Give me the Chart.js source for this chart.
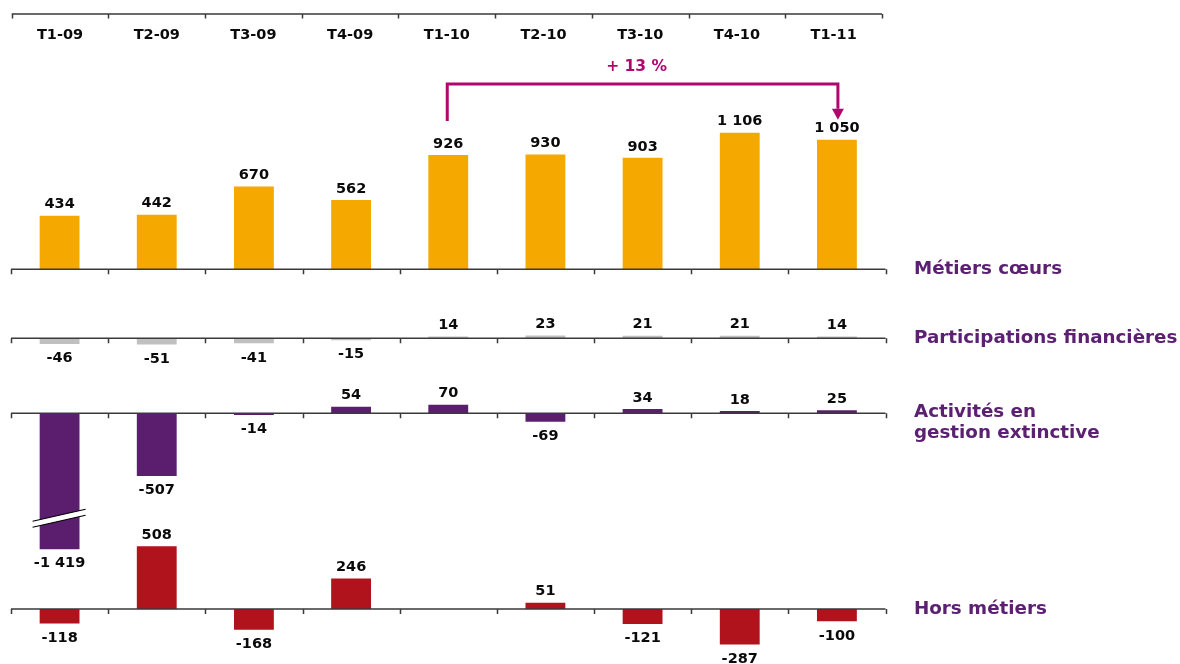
<!DOCTYPE html>
<html>
<head>
<meta charset="utf-8">
<script src="https://cdn.jsdelivr.net/npm/chart.js@4.4.1/dist/chart.umd.min.js"></script>
<style>
  html, body { margin: 0; padding: 0; background: #fff; }
  #wrap { width: 1180px; height: 664px; position: relative; }
</style>
</head>
<body>
<div id="wrap"><canvas id="c"></canvas></div>
<script>
// Quarterly result by business line (M€)
const quarters = ['T1-09', 'T2-09', 'T3-09', 'T4-09', 'T1-10', 'T2-10', 'T3-10', 'T4-10', 'T1-11'];
const metiersCoeurs = [434, 442, 670, 562, 926, 930, 903, 1106, 1050];
const participations = [-46, -51, -41, -15, 14, 23, 21, 21, 14];
const gestionExtinctive = [-1419, -507, -14, 54, 70, -69, 34, 18, 25];
const horsMetiers = [-118, 508, -168, 246, null, 51, -121, -287, -100];
const seriesNames = ['Métiers cœurs', 'Participations financières', ['Activités en', 'gestion extinctive'], 'Hors métiers'];
const growthText = '+ 13 %';

// Layout: every panel shares the same vertical scale, each with its own zero line
const PX_PER_UNIT = 0.1235;
const PLOT_HEIGHT = 664;
const PANEL_ZERO_PX = [269.3, 338.3, 413.3, 609];
const FONT = '"DejaVu Sans", Verdana, sans-serif';
const COLORS = {
  orange: '#F5A800',
  grey: '#C0C0C0',
  purple: '#5B1E6E',
  red: '#B0131B',
  seriesText: '#5C2073',
  accent: '#B0076F',
  axis: '#3a3a3a',
  text: '#0a0a0a'
};

// Linear scale that compresses values beyond a break point (axis break)
class BrokenLinearScale extends Chart.LinearScale {
  getPixelForValue(value, index) {
    const b = this.options.breakAt;
    const k = this.options.breakRatio;
    if (typeof b === 'number' && value < b) {
      value = b + (value - b) * k;
    }
    return super.getPixelForValue(value, index);
  }
}
BrokenLinearScale.id = 'brokenLinear';
BrokenLinearScale.defaults = Chart.LinearScale.defaults;
Chart.register(BrokenLinearScale);

function panelAxis(zeroPx, extra) {
  const max = zeroPx / PX_PER_UNIT;
  const min = max - PLOT_HEIGHT / PX_PER_UNIT;
  return Object.assign({ type: 'linear', display: false, min: min, max: max, grid: { display: false } }, extra || {});
}

function formatValue(v) {
  const s = Math.abs(v).toString().replace(/\B(?=(\d{3})+(?!\d))/g, ' ');
  return (v < 0 ? '-' : '') + s;
}

const panelPlugin = {
  id: 'panels',
  afterDatasetsDraw(chart) {
    const ctx = chart.ctx;
    const xs = chart.scales.x;
    const area = chart.chartArea;
    const n = quarters.length;
    const step = (area.right - area.left) / n;

    ctx.save();

    // header axis with quarter labels
    const headerY = 14;
    const hLeft = area.left + 0.7;
    const hStep = (area.right - 3.5 - hLeft) / n;
    ctx.strokeStyle = COLORS.axis;
    ctx.lineWidth = 1.5;
    ctx.beginPath();
    ctx.moveTo(hLeft, headerY);
    ctx.lineTo(hLeft + n * hStep, headerY);
    for (let i = 0; i <= n; i++) {
      const tx = Math.round(hLeft + i * hStep) + 0.5;
      ctx.moveTo(tx, headerY);
      ctx.lineTo(tx, headerY + 4.5);
    }
    ctx.stroke();

    ctx.fillStyle = COLORS.text;
    ctx.font = 'bold 14.5px ' + FONT;
    ctx.textAlign = 'center';
    ctx.textBaseline = 'middle';
    quarters.forEach((q, i) => ctx.fillText(q, hLeft + (i + 0.5) * hStep, 35));

    // zero lines, break marks, value labels and series names
    chart.data.datasets.forEach((ds, di) => {
      const meta = chart.getDatasetMeta(di);
      const ys = chart.scales[ds.yAxisID];
      const zero = ys.getPixelForValue(0);

      // break symbol on truncated bars
      if (typeof ys.options.breakAt === 'number') {
        const by = ys.getPixelForValue(ys.options.breakAt);
        meta.data.forEach((bar, i) => {
          const v = ds.data[i];
          if (v === null || v >= ys.options.breakAt) return;
          const cx = bar.x;
          const L = { x: cx - 27, y: by + 6 };
          const R = { x: cx + 26, y: by - 6 };
          const h = 3;
          ctx.fillStyle = '#ffffff';
          ctx.beginPath();
          ctx.moveTo(L.x, L.y - h);
          ctx.lineTo(R.x, R.y - h);
          ctx.lineTo(R.x, R.y + h);
          ctx.lineTo(L.x, L.y + h);
          ctx.closePath();
          ctx.fill();
          ctx.strokeStyle = '#000000';
          ctx.lineWidth = 1.2;
          ctx.beginPath();
          ctx.moveTo(L.x, L.y - h);
          ctx.lineTo(R.x, R.y - h);
          ctx.moveTo(L.x, L.y + h);
          ctx.lineTo(R.x, R.y + h);
          ctx.stroke();
        });
      }

      ctx.strokeStyle = COLORS.axis;
      ctx.lineWidth = 1.5;
      ctx.beginPath();
      ctx.moveTo(area.left, zero);
      ctx.lineTo(area.right, zero);
      for (let i = 0; i <= n; i++) {
        const tx = Math.round(area.left + i * step) + 0.5;
        ctx.moveTo(tx, zero);
        ctx.lineTo(tx, zero + 5);
      }
      ctx.stroke();

      ctx.fillStyle = COLORS.text;
      ctx.font = 'bold 14.5px ' + FONT;
      ctx.textAlign = 'center';
      ctx.textBaseline = 'middle';
      meta.data.forEach((bar, i) => {
        const v = ds.data[i];
        if (v === null || v === undefined) return;
        const ly = v >= 0 ? bar.y - 11 : bar.y + 14.5;
        ctx.fillText(formatValue(v), bar.x, ly);
      });

      ctx.fillStyle = COLORS.seriesText;
      ctx.font = 'bold 18.3px ' + FONT;
      ctx.textAlign = 'left';
      const lines = Array.isArray(ds.label) ? ds.label : [ds.label];
      const lx = area.right + 28.5;
      if (lines.length === 1) {
        ctx.fillText(lines[0], lx, zero);
      } else {
        lines.forEach((t, k) => ctx.fillText(t, lx, zero - 1.5 + k * 21.5));
      }
    });

    // growth bracket between T1-10 and T1-11
    const y1 = chart.scales.y1;
    const xL = xs.getPixelForValue(4) - 1;
    const xR = xs.getPixelForValue(8) + 1;
    const yTop = y1.getPixelForValue(1500);
    const yStart = y1.getPixelForValue(1200);
    const yHeadBase = y1.getPixelForValue(1300);
    const yTip = y1.getPixelForValue(1210);
    ctx.strokeStyle = COLORS.accent;
    ctx.fillStyle = COLORS.accent;
    ctx.lineWidth = 3;
    ctx.lineJoin = 'miter';
    ctx.beginPath();
    ctx.moveTo(xL, yStart);
    ctx.lineTo(xL, yTop);
    ctx.lineTo(xR, yTop);
    ctx.lineTo(xR, yHeadBase);
    ctx.stroke();
    ctx.beginPath();
    ctx.moveTo(xR - 6, yHeadBase);
    ctx.lineTo(xR + 6, yHeadBase);
    ctx.lineTo(xR, yTip);
    ctx.closePath();
    ctx.fill();

    ctx.font = 'bold 15.5px ' + FONT;
    ctx.textAlign = 'center';
    ctx.textBaseline = 'middle';
    ctx.fillText(growthText, (xL + xR) / 2 - 6, y1.getPixelForValue(1638));

    ctx.restore();
  }
};

new Chart(document.getElementById('c'), {
  type: 'bar',
  data: {
    labels: quarters,
    datasets: [
      { label: seriesNames[0], data: metiersCoeurs, yAxisID: 'y1', backgroundColor: COLORS.orange },
      { label: seriesNames[1], data: participations, yAxisID: 'y2', backgroundColor: COLORS.grey },
      { label: seriesNames[2], data: gestionExtinctive, yAxisID: 'y3', backgroundColor: COLORS.purple },
      { label: seriesNames[3], data: horsMetiers, yAxisID: 'y4', backgroundColor: COLORS.red }
    ]
  },
  options: {
    responsive: true,
    maintainAspectRatio: false,
    animation: false,
    layout: { padding: { left: 11, right: 294.5, top: 0, bottom: 0 } },
    datasets: { bar: { grouped: false, categoryPercentage: 1, barPercentage: 0.41, borderWidth: 0 } },
    plugins: { legend: { display: false }, tooltip: { enabled: false } },
    scales: {
      x: { type: 'category', display: false, offset: true, grid: { display: false } },
      y1: panelAxis(PANEL_ZERO_PX[0]),
      y2: panelAxis(PANEL_ZERO_PX[1]),
      y3: panelAxis(PANEL_ZERO_PX[2], { type: 'brokenLinear', breakAt: -850, breakRatio: 0.44 }),
      y4: panelAxis(PANEL_ZERO_PX[3])
    }
  },
  plugins: [panelPlugin]
});
</script>
</body>
</html>
